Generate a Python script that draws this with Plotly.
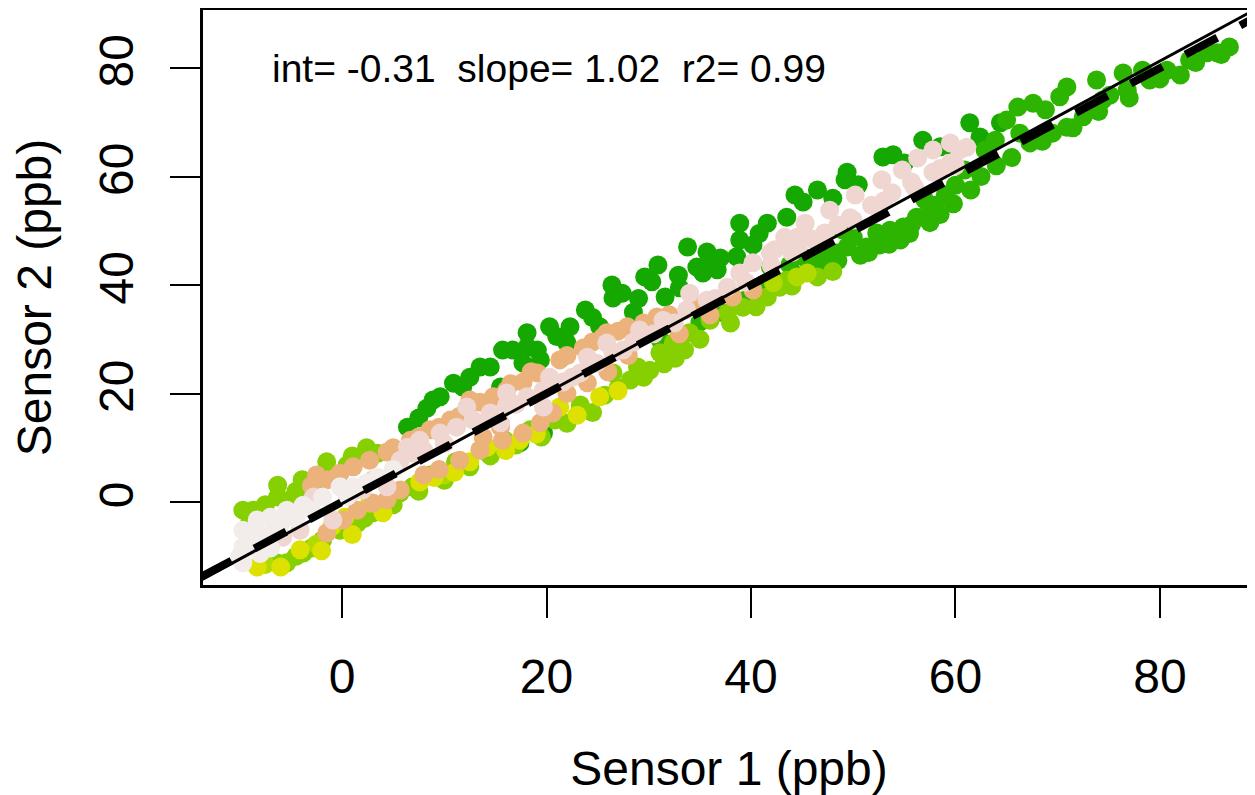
import plotly.graph_objects as go

# ---- data (Sensor 1 vs Sensor 2, ppb), grouped by point colour ----
s1_dkgreen = [6.4, 8.3, 8.9, 9.6, 10.9, 11.8, 13.5, 14.5, 15.7, 16.7, 18.1, 18.1, 19.1, 19.4, 17.7,
              20.3, 22.3, 22.0, 25.2, 15.5, 23.8, 26.4, 26.5, 27.4, 28.5, 29.6, 30.9, 30.3, 31.6, 32.9,
              33.8, 34.7, 35.7, 37.0, 35.3, 36.7, 38.6, 38.9, 40.2, 38.9, 41.6, 44.3, 45.1, 49.4, 49.2,
              52.9, 53.9, 56.8, 61.4, 64.4, 62.4, 17.4, 19.7,
              7.5, 12.5, 21.0, 24.5, 29.0, 33.0, 36.0, 40.8, 43.5, 46.5, 48.0, 50.5, 55.0, 58.5, 60.0]
s2_dkgreen = [13.8, 17.3, 18.8, 19.4, 21.9, 21.2, 24.9, 24.9, 28.0, 28.0, 31.2, 28.6, 28.0, 26.2, 25.6,
              32.3, 32.3, 29.3, 32.3, 21.2, 35.4, 40.0, 37.6, 38.5, 35.0, 41.5, 43.7, 40.6, 37.8, 41.8,
              47.0, 43.3, 46.1, 45.0, 42.2, 42.8, 45.2, 48.3, 47.4, 51.4, 51.4, 56.6, 55.3, 60.8, 59.4,
              63.6, 64.0, 66.7, 69.9, 69.9, 67.3, 10.9, 12.7,
              15.5, 23.0, 30.5, 34.0, 37.5, 39.5, 44.5, 49.5, 52.5, 57.5, 56.0, 58.5, 62.5, 65.5, 64.5]

s1_green = [47.0, 48.4, 49.4, 50.0, 51.3, 52.3, 53.6, 54.9, 56.2, 56.8, 49.0, 41.9, 43.8, 45.3, 46.3,
            47.7, 50.7, 52.6, 54.6, 58.0, 59.0, 60.0, 60.9, 57.0, 55.7, 62.9, 63.9, 65.0, 66.1, 67.6,
            66.3, 67.3, 69.5, 70.9, 72.5, 70.2, 70.9, 73.8, 74.4, 76.4, 76.8, 78.3, 79.0, 80.7, 82.9,
            84.6, 85.6, 86.8, 68.8, 75.1, 82.0, 35.0, 37.0, 39.4, 41.4, 43.3, 31.1,
            44.5, 46.0, 48.5, 51.5, 53.5, 55.5, 57.5, 58.5, 59.8, 61.5, 62.5, 64.0, 65.5, 68.5, 71.5,
            74.0, 77.0, 80.0, 83.5, 86.0]
s2_green = [45.9, 45.9, 47.0, 48.8, 47.0, 49.6, 50.1, 50.7, 52.5, 52.5, 50.1, 43.3, 43.7, 45.0, 42.8,
            44.2, 45.5, 47.4, 48.3, 54.7, 56.6, 58.4, 61.2, 55.7, 51.1, 64.9, 66.7, 70.4, 72.8, 73.5,
            68.0, 66.2, 68.0, 69.1, 71.0, 74.7, 76.5, 77.8, 74.1, 79.1, 75.9, 79.6, 77.8, 79.6, 81.5,
            82.8, 82.8, 83.9, 72.3, 75.0, 78.7, 33.2, 35.0, 37.2, 38.7, 40.4, 29.9,
            41.8, 43.5, 44.5, 46.0, 47.5, 49.5, 51.5, 53.0, 55.0, 57.5, 60.0, 62.0, 63.5, 66.5, 69.0,
            72.0, 74.5, 78.0, 81.0, 82.5]

s1_ltgreen = [-9.7, -8.7, -6.3, -6.3, -3.9, -1.5, 2.4, 0.5, -5.1, -2.8, -3.8, -5.4, -6.4, -1.9, -0.2,
              1.5, 3.0, 4.4, 5.7, 6.9, 8.6, 11.1, 13.5, 15.9, 18.4, 20.8, 23.3, 25.7, 28.2, 30.1,
              32.6, 43.5, 42.8, 41.6, 39.2, 37.7, 36.0, 34.0, 32.4, 31.1, 28.9, 26.5,
              -4.5, -3.0, 0.8, 2.2, 5.0, 7.5, 10.0, 12.5, 14.5, 17.0, 19.5, 22.0, 24.5, 27.0, 29.5,
              31.5, 33.5, 35.0, 38.0, 40.5, 44.0, 46.5, 48.0,
              -9.0, -7.5, -4.5, -2.0, 1.0, 3.5]
s2_ltgreen = [-1.5, -1.5, 3.1, 0.9, 4.1, 7.4, 10.0, 6.8, 0.4, 2.8, -9.4, -11.2, -11.2, -7.0, -5.2,
              -3.9, -2.0, -0.2, 1.7, 2.8, 5.0, 7.4, 9.6, 11.4, 13.3, 15.1, 17.9, 19.7, 22.5, 24.3,
              26.5, 40.9, 39.6, 37.8, 35.9, 34.8, 33.5, 31.2, 29.3, 27.5, 24.9, 23.8,
              -10.0, -8.5, -5.0, -3.0, -0.5, 2.0, 4.0, 6.5, 8.5, 10.5, 12.0, 14.5, 16.5, 21.0, 23.0,
              25.5, 28.0, 30.0, 33.0, 36.0, 39.8, 41.5, 42.5,
              -3.5, -0.5, 2.0, 5.0, 8.5, 9.0]

s1_ygreen = [44.5, 45.5, 42.2, -7.5, -2.5, 10.0]
s2_ygreen = [41.5, 42.2, 40.4, -11.5, -7.8, 5.0]

s1_yellow = [2.7, -8.3, -4.1, 21.3, 14.2, 25.2, 0.3, 7.6, 12.5, 17.4,
             -6.0, -2.0, 1.0, 4.0, 9.0, 11.0, 16.0, 19.0, 23.0, 27.0, -1.0]
s2_yellow = [-0.2, -12.0, -8.8, 17.5, 10.1, 19.4, -2.8, 3.7, 7.4, 11.4,
             -12.0, -9.0, -6.0, -2.0, 4.5, 5.5, 9.5, 12.5, 16.0, 20.5, -4.5]

s1_tan = [-1.5, -0.2, 1.1, 2.7, 4.4, 6.7, 0.1, -1.5, 1.5, 3.0, 4.4, 5.7, 8.6, 10.6, 12.2,
          13.5, 14.8, 16.1, 17.7, 19.1, 21.3, 23.6, 25.5, 11.5, 13.5, 15.7, 17.7, 19.4, 20.6, 15.5,
          13.8, 25.9, 27.9, 30.8, 36.0, 38.2, 40.2,
          7.5, 9.5, 11.5, 5.0, 12.5, 16.5, 18.5, 22.0, 24.5, 27.0, 29.5, 32.0, 34.5, -3.0, -2.5,
          22.0, 24.0, 26.0, 28.0, 9.5, 8.0, 33.0]
s2_tan = [4.1, 5.3, 6.5, 7.7, 9.2, 11.4, -3.3, -5.7, -1.5, -0.2, 0.4, 2.2, 13.3, 15.1, 17.0,
          18.4, 19.4, 20.6, 22.1, 23.8, 26.2, 28.4, 30.4, 7.7, 9.6, 11.4, 12.7, 14.6, 16.4, 13.8,
          12.0, 31.2, 32.3, 34.1, 34.5, 37.8, 39.1,
          12.0, 13.8, 15.8, 10.0, 18.8, 21.8, 24.0, 27.0, 29.5, 31.5, 33.0, 34.5, 36.5, 3.0, 5.0,
          20.0, 22.0, 24.0, 27.0, 6.0, 5.0, 31.0]

s1_pink = [4.4, 5.7, 6.9, -4.1, -5.8, -7.3, -0.9, -2.8, 3.0, 6.4, 7.6, 9.6, 11.2, 12.8, 14.5,
           16.1, 18.1, 19.7, 21.6, 23.3, 24.9, 26.5, 12.2, 16.1, 20.3, 24.0, 25.9, 15.5, 19.7, 29.1,
           31.4, 33.7, 35.7, 37.7, 38.9, 40.2, 41.9, 43.5, 44.5, 34.0, 42.3, 43.3, 44.6, 45.3, 47.2,
           47.7, 49.7, 50.2, 51.8, 52.8, 53.8, 54.8, 55.7, 56.3, 57.8, 57.8, 59.5, 59.5, 60.4, 61.1,
           0.8, 2.0, 8.0, 10.0, 13.5, 17.0, 20.5, 22.5, 27.5, 28.5, 30.5, 32.5, 36.5, 39.5, 42.0,
           44.0, 46.0, 48.5, 50.0, 53.0, 56.0, 58.5, 60.0]
s2_pink = [2.8, 7.7, 9.0, -5.2, -6.5, -7.6, -3.3, 0.9, 4.1, 10.1, 11.4, 12.7, 13.8, 15.1, 16.4,
           17.9, 19.4, 20.6, 22.1, 23.8, 25.6, 27.5, 17.5, 20.1, 23.0, 26.7, 29.3, 14.6, 17.5, 31.7,
           33.5, 35.4, 37.2, 39.6, 42.2, 44.1, 45.9, 48.3, 48.8, 38.5, 46.5, 48.8, 46.8, 51.4, 49.6,
           53.8, 52.4, 56.6, 54.7, 59.4, 57.0, 61.2, 59.0, 63.4, 60.8, 64.9, 62.5, 66.2, 64.9, 65.4,
           1.5, 2.2, 9.5, 10.8, 14.5, 18.0, 21.5, 23.0, 28.0, 29.5, 31.0, 33.0, 37.5, 40.5, 43.5,
           46.0, 48.5, 51.0, 52.0, 55.5, 58.0, 61.5, 62.0]

s1_white = [-9.7, -9.7, -9.7, -8.3, -7.0, -5.4, -3.8, -1.9, -0.2, 1.1, 2.4, -8.3, -6.7,
            -9.0, -8.0, -6.0, -4.5, -3.0, 0.5, 3.5, 5.0, -10.0, -7.0]
s2_white = [-5.2, -8.3, -11.2, -3.3, -2.8, -1.5, -0.6, 0.9, 2.8, 2.8, 3.5, -5.7, -5.2,
            -7.0, -9.5, -4.0, -3.0, -1.5, 1.0, 4.5, 6.0, -10.0, -8.5]

# regression result shown in the corner
FIT_INT = -0.31
FIT_SLOPE = 1.02
FIT_R2 = 0.99

TICKS = [0, 20, 40, 60, 80]
X_RANGE = [-13.6, 89.3]
Y_RANGE = [-15.3, 90.7]

FONT = "Liberation Sans, Arial, sans-serif"

GROUPS = [
    (s1_dkgreen, s2_dkgreen, "#14A800"),
    (s1_green, s2_green, "#2DB400"),
    (s1_ltgreen, s2_ltgreen, "#86CF00"),
    (s1_ygreen, s2_ygreen, "#B0DA00"),
    (s1_yellow, s2_yellow, "#DCE100"),
    (s1_tan, s2_tan, "#EBB27C"),
    (s1_pink, s2_pink, "#F0D6D1"),
    (s1_white, s2_white, "#F2ECEB"),
]

fig = go.Figure()

for xs, ys, col in GROUPS:
    fig.add_trace(go.Scatter(
        x=xs, y=ys, mode="markers",
        marker=dict(color=col, size=19, line=dict(width=0)),
        showlegend=False, hoverinfo="skip",
    ))

# 1:1 line (thick dashed) and fitted line (thin solid)
line_x = [-30, 110]
fig.add_trace(go.Scatter(
    x=line_x, y=line_x, mode="lines",
    line=dict(color="black", width=8, dash="36px,26px"),
    showlegend=False, hoverinfo="skip",
))
fig.add_trace(go.Scatter(
    x=line_x, y=[FIT_INT + FIT_SLOPE * v for v in line_x], mode="lines",
    line=dict(color="black", width=3),
    showlegend=False, hoverinfo="skip",
))

fig.add_annotation(
    x=-7.0, y=80, xref="x", yref="y", xanchor="left", yanchor="middle",
    text=f"int= {FIT_INT:.2f}  slope= {FIT_SLOPE:.2f}  r2= {FIT_R2:.2f}",
    showarrow=False, font=dict(family=FONT, size=39, color="black"),
)

axis_common = dict(
    showgrid=False, zeroline=False, automargin=False,
    showline=True, linecolor="black", linewidth=3,
    ticks="outside", ticklen=30, tickwidth=2, tickcolor="black",
    tickvals=TICKS, ticktext=[str(t) for t in TICKS],
    tickfont=dict(family=FONT, size=48, color="black"),
)

# page body has an 8px margin, so the figure is sized/placed to compensate
fig.update_layout(
    width=1247, height=787,
    margin=dict(l=195, r=0, t=2, b=210),
    paper_bgcolor="white", plot_bgcolor="white",
    xaxis=dict(range=X_RANGE, mirror=True, ticklabelstandoff=17,
               title=dict(text="Sensor 1 (ppb)", font=dict(family=FONT, size=48, color="black"),
                          standoff=52),
               **axis_common),
    yaxis=dict(range=Y_RANGE, tickangle=-90, ticklabelstandoff=18,
               title=dict(text="Sensor 2 (ppb)", font=dict(family=FONT, size=48, color="black"),
                          standoff=24),
               **axis_common),
)

fig.write_html("out.html")
